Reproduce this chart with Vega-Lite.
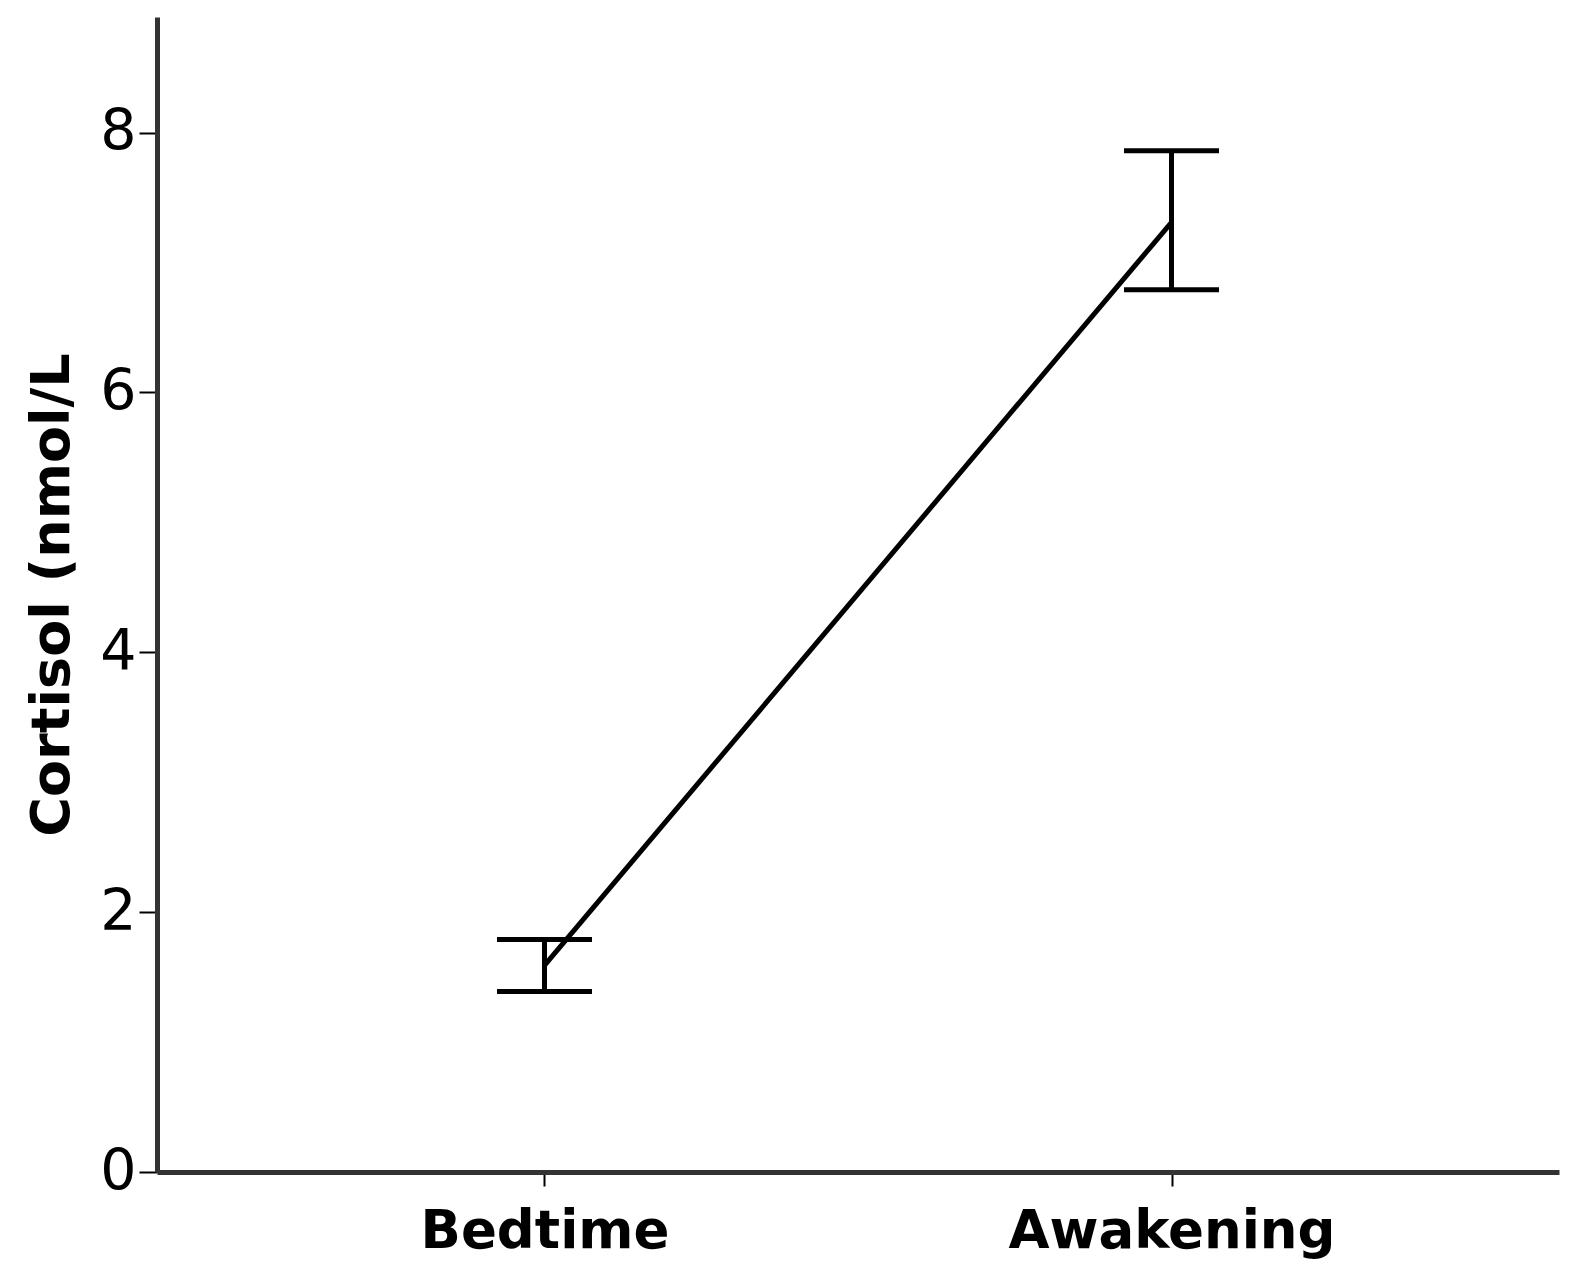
{
  "$schema": "https://vega.github.io/schema/vega-lite/v6.json",
  "autosize": "none",
  "width": 1402,
  "height": 1155,
  "padding": {"left": 157, "top": 17, "right": 15, "bottom": 107},
  "background": "white",
  "config": {"view": {"stroke": null}},
  "data": {"values": [
    {"time": "Bedtime", "mean": 1.59, "lo": 1.39, "hi": 1.79},
    {"time": "Awakening", "mean": 7.31, "lo": 6.79, "hi": 7.86}
  ]},
  "encoding": {
    "x": {"field": "time", "type": "nominal", "sort": ["Bedtime", "Awakening"],
      "scale": {"type": "point", "padding": 0.618},
      "axis": {"title": null, "labelFont": "DejaVu Sans", "labelFontWeight": "bold", "labelFontSize": 53, "labelColor": "black", "labelLimit": 0,
        "labelPadding": 19, "tickSize": 14, "tickWidth": 2, "tickColor": "black", "domainColor": "#333", "domainWidth": 5, "labelAngle": 0}}
  },
  "layer": [
    {"mark": {"type": "line", "color": "black", "strokeWidth": 5},
     "encoding": {"y": {"field": "mean", "type": "quantitative",
        "scale": {"domain": [0, 8.89], "nice": false, "zero": true},
        "axis": {"title": "Cortisol (nmol/L", "titleFont": "DejaVu Sans", "titleFontWeight": "bold", "titleFontSize": 54, "titleColor": "black", "titlePadding": 20,
          "values": [0, 2, 4, 6, 8], "format": "d", "labelFont": "DejaVu Sans", "labelFontSize": 57, "labelColor": "black", "labelPadding": 3,
          "tickSize": 18, "tickWidth": 2, "tickColor": "black", "domainColor": "#333", "domainWidth": 5, "grid": false}}}},
    {"mark": {"type": "rule", "color": "black", "strokeWidth": 5},
     "encoding": {"y": {"field": "lo", "type": "quantitative"}, "y2": {"field": "hi"}}},
    {"mark": {"type": "tick", "color": "black", "size": 95, "thickness": 5, "opacity": 1},
     "encoding": {"y": {"field": "lo", "type": "quantitative"}}},
    {"mark": {"type": "tick", "color": "black", "size": 95, "thickness": 5, "opacity": 1},
     "encoding": {"y": {"field": "hi", "type": "quantitative"}}}
  ]
}
